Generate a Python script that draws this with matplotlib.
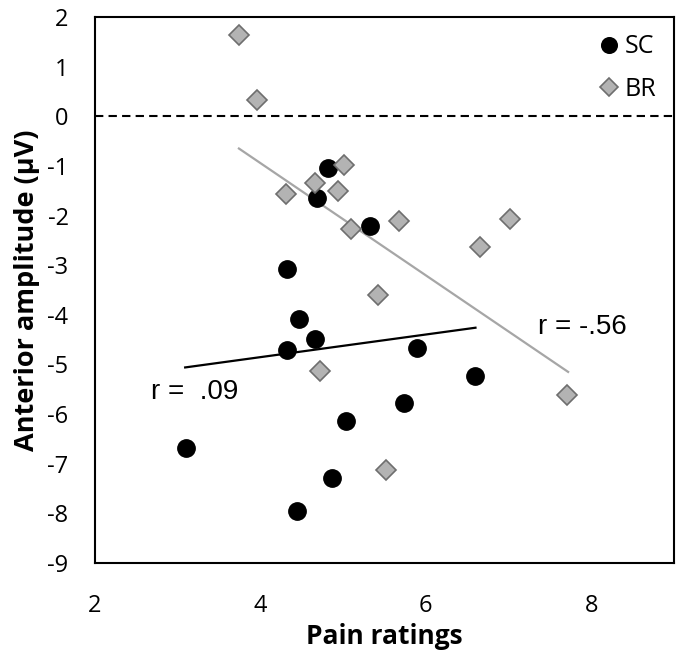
import matplotlib
matplotlib.use("Agg")
import matplotlib.pyplot as plt

plt.rcParams["axes.unicode_minus"] = False

# SC group (black circles)
sc_pain = [4.82, 4.68, 5.33, 4.32, 4.47, 4.66, 4.32, 5.03, 3.10, 4.86, 4.44, 5.89, 6.59, 5.73]
sc_amp = [-1.04, -1.64, -2.21, -3.07, -4.09, -4.49, -4.71, -6.13, -6.68, -7.29, -7.95, -4.66, -5.24, -5.78]

# BR group (grey diamonds)
br_pain = [3.74, 3.96, 5.01, 4.66, 4.94, 4.31, 5.10, 5.67, 7.02, 6.66, 5.42, 4.72, 5.52, 7.71]
br_amp = [1.64, 0.33, -0.98, -1.34, -1.51, -1.57, -2.27, -2.11, -2.06, -2.63, -3.60, -5.13, -7.13, -5.62]

# regression lines (end points)
sc_fit_x = [3.09, 6.60]
sc_fit_y = [-5.06, -4.26]
br_fit_x = [3.74, 7.72]
br_fit_y = [-0.65, -5.15]

xticks = [2, 4, 6, 8]
yticks = list(range(-9, 3))

tick_font = "Open Sans"
note_font = "Liberation Sans"

fig = plt.figure(figsize=(6.83, 6.63), dpi=100)
ax = fig.add_axes([0.1391, 0.1508, 0.8477, 0.8236])

ax.axhline(0, color="black", linestyle=(0, (4, 2.5)), linewidth=1.5, zorder=1)

ax.plot(br_fit_x, br_fit_y, color="#a6a6a6", linewidth=1.6, zorder=2)
ax.plot(sc_fit_x, sc_fit_y, color="black", linewidth=1.6, zorder=2)

ax.plot(sc_pain, sc_amp, linestyle="none", marker="o", markersize=12.5,
        color="black", label="SC", zorder=3)
ax.plot(br_pain, br_amp, linestyle="none", marker="D", markersize=10.5,
        markerfacecolor="#b3b3b3", markeredgecolor="#6e6e6e", markeredgewidth=1.2,
        label="BR", zorder=4)

ax.text(2.68, -5.55, "r =  .09", fontsize=20, family=note_font, va="center", ha="left")
ax.text(7.35, -4.24, "r = -.56", fontsize=20, family=note_font, va="center", ha="left")

ax.set_xlim(2, 9)
ax.set_ylim(-9, 2)
ax.set_xticks(xticks)
ax.set_yticks(yticks)
ax.tick_params(axis="both", length=0, labelsize=17)
ax.tick_params(axis="y", pad=19)
ax.tick_params(axis="x", pad=22)
for lbl in ax.get_xticklabels() + ax.get_yticklabels():
    lbl.set_fontfamily(tick_font)

for sp in ax.spines.values():
    sp.set_linewidth(1.5)
    sp.set_color("black")

ax.set_xlabel("Pain ratings", fontsize=19, fontweight="bold", family=tick_font, labelpad=4)
ax.set_ylabel("Anterior amplitude (\u03bcV)", fontsize=19.5, fontweight="bold", family=tick_font, labelpad=5)

leg = ax.legend(loc="upper right", frameon=False, prop={"family": tick_font, "size": 18},
                handletextpad=0.1, labelspacing=0.7, borderaxespad=0.3, handlelength=1.1,
                markerscale=0.9)

fig.savefig("out.png", dpi=100)
